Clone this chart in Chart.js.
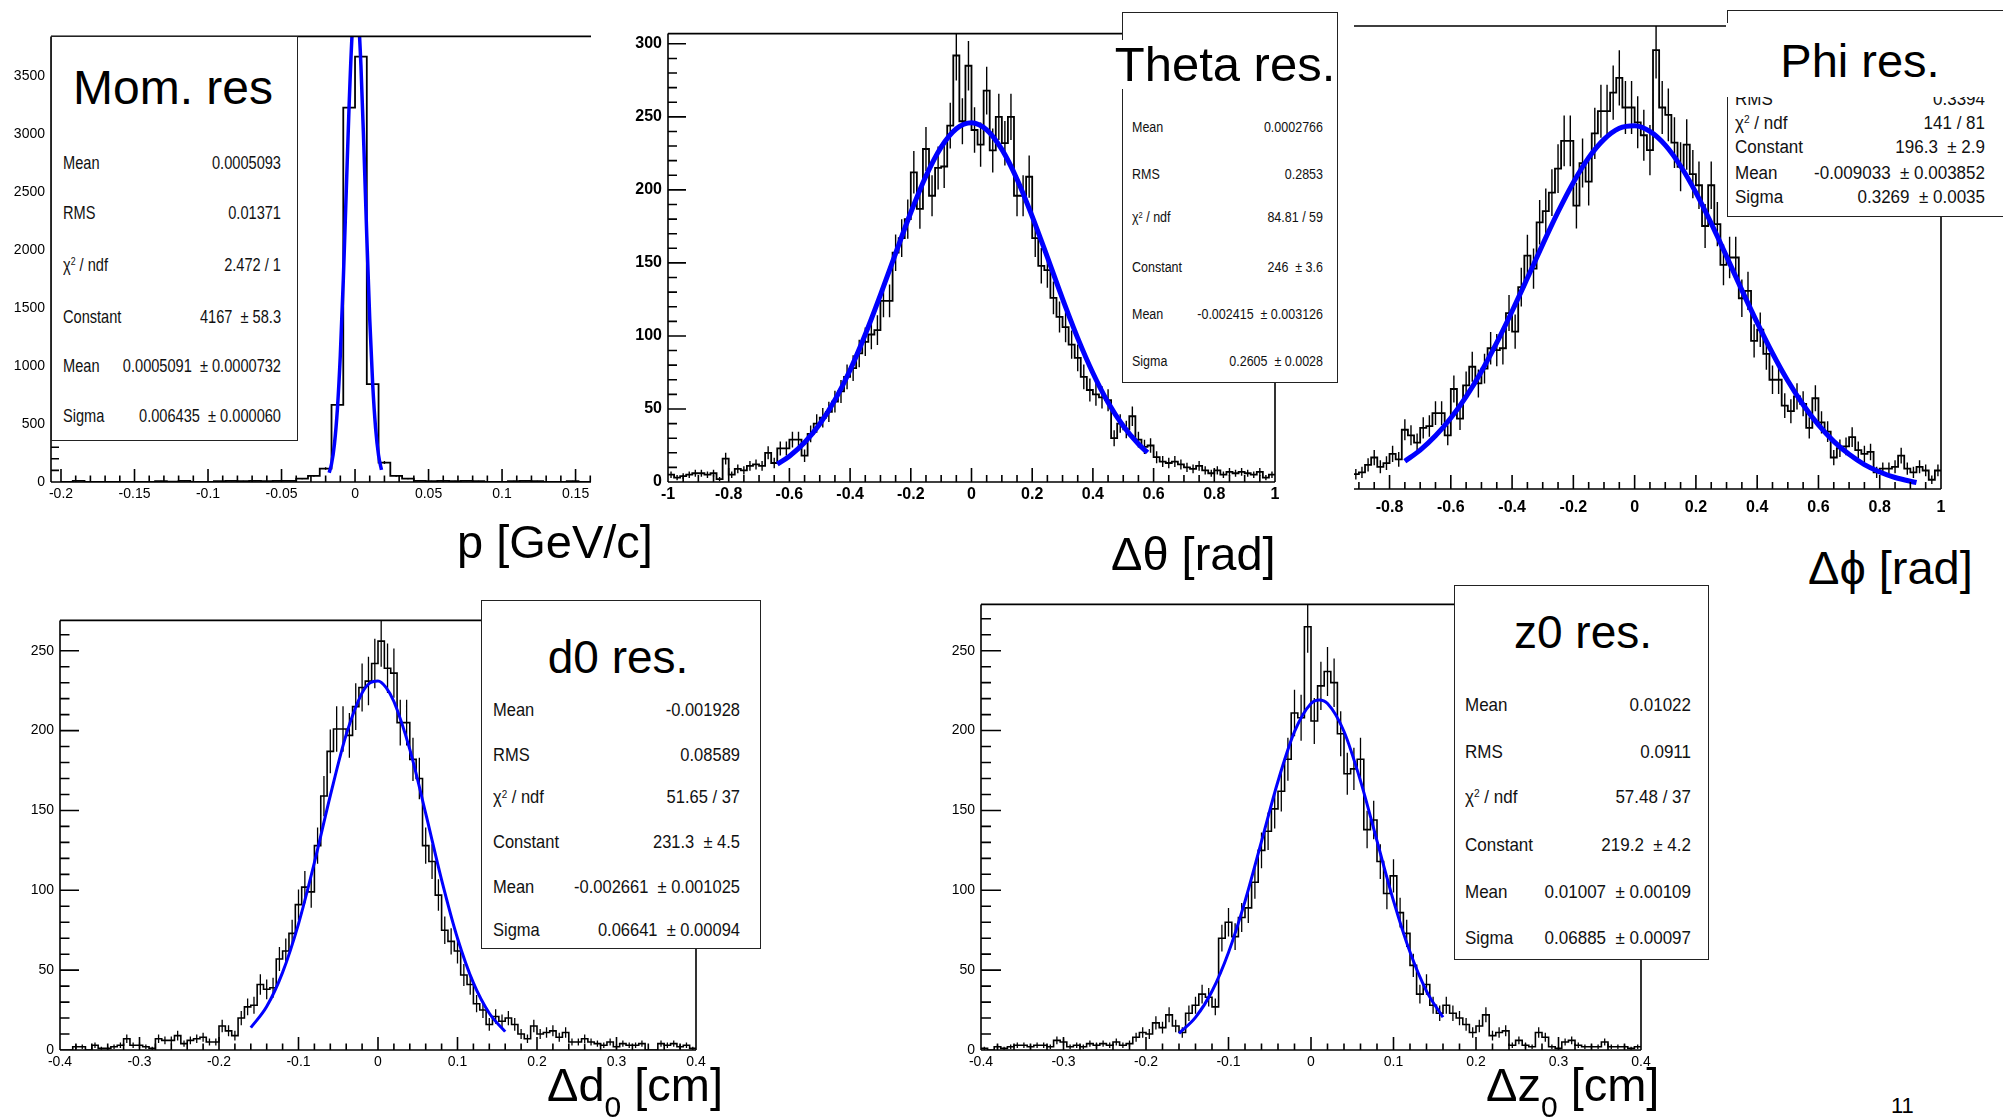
<!DOCTYPE html>
<html><head><meta charset="utf-8">
<script src="https://cdn.jsdelivr.net/npm/chart.js@4.4.1/dist/chart.umd.min.js"></script>
<style>
body{margin:0;background:#fff;width:2003px;height:1117px;position:relative;overflow:hidden;font-family:"Liberation Sans",Arial,Helvetica,sans-serif;}
canvas{position:absolute;}
.box{position:absolute;background:#fff;border:1.5px solid #222;box-sizing:border-box;z-index:5;}
.row{position:absolute;display:flex;justify-content:space-between;white-space:pre;line-height:1;color:#111;z-index:6;transform-origin:50% 50%;}
.row sup{font-size:60%;line-height:0;vertical-align:0.55em;}
.tbox{position:absolute;background:#fff;z-index:7;}
.ttl{position:absolute;white-space:nowrap;line-height:1;color:#000;z-index:8;transform:translateX(-50%);background:#fff;}
.axt{position:absolute;white-space:nowrap;font-size:47px;line-height:1;color:#000;z-index:9;}
</style></head><body>
<script>
// ---------------- DATA ----------------
const momBinLow = -0.2, momBinWidth = 0.008;
const momCounts = [0,9,0,0,0,0,0,0,8,3, 9,0,0,7,10,8,9,8,10,9, 29,52,116,665,3231,3670,844,168,52,29, 9,8,10,8,9,8,0,0,8,9, 8,0,0,8,0];
const momFitX = [-0.0176,-0.016,-0.014,-0.012,-0.010,-0.008,-0.006,-0.004,-0.002,0,0.002,0.004,0.006,0.008,0.010,0.012,0.014,0.016,0.018];
const momFitY = [80,155,328,629,1098,1738,2498,3259,3862,4154,4057,3597,2896,2117,1405,846,463,230,104];
const momXTicks = [-0.2,-0.15,-0.1,-0.05,0,0.05,0.1,0.15];
const momYTicks = [0,500,1000,1500,2000,2500,3000,3500];

const thetaBinLow = -1, thetaBinWidth = 0.02;
const thetaCounts = [5,3,4,5,6,6,5,6,2,16, 5,9,8,11,12,11,20,13,23,23, 29,29,18,33,40,44,48,55,62,72, 78,88,96,101,104,124,124,157,167,180, 212,187,228,196,215,216,244,292,247,285, 241,231,268,227,250,232,250,196,196,209, 167,148,145,126,113,106,94,85,72,63, 60,58,56,30,40,36,45,29,24,25, 17,14,13,14,12,10,9,11,8,6, 8,5,7,6,7,6,5,7,3,5];
const thetaFitX = [-0.64,-0.6,-0.55,-0.5,-0.45,-0.4,-0.35,-0.3,-0.25,-0.2,-0.15,-0.1,-0.05,0,0.05,0.1,0.15,0.2,0.25,0.3,0.35,0.4,0.45,0.5,0.55,0.58];
const thetaFitY = [12.3,17.7,27.0,39.7,56.2,76.7,101.0,128.1,156.6,184.5,209.5,229.3,241.9,246,241.1,227.7,207.3,181.9,153.9,125.4,98.5,74.6,54.4,38.3,26.0,20.2];
const thetaXTicks = [-1,-0.8,-0.6,-0.4,-0.2,0,0.2,0.4,0.6,0.8,1];
const thetaYTicks = [0,50,100,150,200,250,300];

const phiBinLow = -0.92, phiBinWidth = 0.02;
const phiCounts = [8,9,13,17,12,14,19,16,32,29, 25,33,34,41,41,29,54,38,56,66, 57,65,76,75,76,95,85,109,126,119, 144,150,160,173,188,188,153,176,166,192, 204,204,214,222,206,206,198,191,183,237, 206,202,187,174,186,170,164,142,164,143, 121,125,125,103,107,80,86,73,59,59, 45,42,50,46,33,49,36,31,17,22, 23,28,21,19,20,9,11,11,12,18, 11,9,12,10,5,10];
const phiFitX = [-0.75,-0.7,-0.65,-0.6,-0.55,-0.5,-0.45,-0.4,-0.35,-0.3,-0.25,-0.2,-0.15,-0.1,-0.05,0,0.05,0.1,0.15,0.2,0.25,0.3,0.35,0.4,0.45,0.5,0.55,0.6,0.65,0.7,0.75,0.8,0.85,0.92];
const phiFitY = [15.0,21.0,28.7,38.3,49.9,63.5,79.0,96.0,113.9,132.1,149.6,165.5,178.9,188.8,194.8,196.2,193.1,185.7,174.4,160.0,143.4,125.6,107.4,89.8,73.3,58.4,45.5,34.6,25.7,18.7,13.2,9.2,6.2,3.5];
const phiXTicks = [-0.8,-0.6,-0.4,-0.2,0,0.2,0.4,0.6,0.8,1];

const d0BinLow = -0.4, d0BinWidth = 0.008;
const d0Counts = [0,0,2,2,0,3,1,1,2,3, 7,3,3,2,1,7,6,6,9,4, 6,7,8,5,5, 15,12,9,20,27,28,41,38,39,57, 62,73,91,102,99,128,159,187,201,201, 197,215,227,231,242,256, 239,236,205,205,182,170,128,118,97,75, 68,62,47,41,29,25,16,21,18,20, 16,10,7,15,10,11,12,8,11,5, 5,7,5,4,3,5,2,4,3,3, 4,0,0,4,3,4,2,3,1];
const d0FitX = [-0.16,-0.14,-0.12,-0.1,-0.08,-0.06,-0.04,-0.02,-0.01,0,0.01,0.02,0.04,0.06,0.08,0.1,0.12,0.14,0.16];
const d0FitY = [14.0,27.2,48.6,79.0,117.4,159.3,197.5,223.6,229.9,231.1,227.1,218.2,188.2,148.2,106.6,70.0,42.0,23.0,11.5];
const d0XTicks = [-0.4,-0.3,-0.2,-0.1,0,0.1,0.2,0.3,0.4];
const d0YTicks = [0,50,100,150,200,250];

const z0BinLow = -0.4, z0BinWidth = 0.008;
const z0Counts = [1,0,2,1,2,3,3,2,3,3, 2,6,5,2,3,2,4,3,4,3, 5,3,4,8,11,10,17,14,22,15, 11,23,28,35,33,27,70,80,71,83, 89,105,125,137,151,162,182,211,208,265, 206,228,237,230,198,173,176,182,138,144, 118,98,109,86,73,53,35,41,28,23, 28,23,20,16,11,15,22,9,11,12, 3,6,3,2,11,8,2,1,5,6, 3,2,2,2,5,2,2,2,1,2];
const z0FitX = [-0.16,-0.14,-0.12,-0.1,-0.08,-0.06,-0.04,-0.02,0,0.01,0.02,0.04,0.06,0.08,0.1,0.12,0.14,0.16];
const z0FitY = [10.4,20.4,36.8,61.1,93.1,130.6,168.3,199.3,216.9,219.2,216.9,199.4,168.5,130.9,93.4,61.3,36.9,20.5];
const z0XTicks = [-0.4,-0.3,-0.2,-0.1,0,0.1,0.2,0.3,0.4];
const z0YTicks = [0,50,100,150,200,250];

const statMom = [['Mean','0.0005093'],['RMS','0.01371'],['χ<sup>2</sup> / ndf','2.472 / 1'],['Constant','4167  ± 58.3'],['Mean','0.0005091  ± 0.0000732'],['Sigma','0.006435  ± 0.000060']];
const statTheta = [['Mean','0.0002766'],['RMS','0.2853'],['χ<sup>2</sup> / ndf','84.81 / 59'],['Constant','246  ± 3.6'],['Mean','-0.002415  ± 0.003126'],['Sigma','0.2605  ± 0.0028']];
const statPhi = [['RMS','0.3394'],['χ<sup>2</sup> / ndf','141 / 81'],['Constant','196.3  ± 2.9'],['Mean','-0.009033  ± 0.003852'],['Sigma','0.3269  ± 0.0035']];
const statD0 = [['Mean','-0.001928'],['RMS','0.08589'],['χ<sup>2</sup> / ndf','51.65 / 37'],['Constant','231.3  ± 4.5'],['Mean','-0.002661  ± 0.001025'],['Sigma','0.06641  ± 0.00094']];
const statZ0 = [['Mean','0.01022'],['RMS','0.0911'],['χ<sup>2</sup> / ndf','57.48 / 37'],['Constant','219.2  ± 4.2'],['Mean','0.01007  ± 0.00109'],['Sigma','0.06885  ± 0.00097']];

// ---------------- HELPERS ----------------
Chart.defaults.font.family = '"Liberation Sans", Arial, Helvetica, sans-serif';
const fmt = v => String(Math.round(v*10000)/10000);
function histPoints(lo, w, counts){
  const p = counts.map((c,i)=>({x: lo + i*w, y: c}));
  p.push({x: lo + counts.length*w, y: counts[counts.length-1]});
  return p;
}
function errPoints(lo, w, counts){
  const p = [];
  counts.forEach((c,i)=>{ if(c>0){ const xc = lo+(i+0.5)*w, e = Math.sqrt(c);
    p.push({x:xc,y:c-e},{x:xc,y:c+e},{x:xc,y:null}); } });
  return p;
}
const zipPts = (xs, ys) => xs.map((x,i)=>({x, y: ys[i]}));

const rootAxes = {
  id:'rootAxes',
  afterDatasetsDraw(chart, args, o){
    const {ctx, chartArea:a, scales:{x, y}} = chart;
    ctx.save(); ctx.strokeStyle='#000'; ctx.lineWidth=o.lw; ctx.lineCap='butt';
    ctx.beginPath();
    ctx.moveTo(a.left, a.bottom); ctx.lineTo(a.right, a.bottom);
    if(o.left){ ctx.moveTo(a.left, a.top); ctx.lineTo(a.left, a.bottom); }
    if(o.top){ ctx.moveTo(a.left, a.top); ctx.lineTo(a.right, a.top); }
    if(o.right){ ctx.moveTo(a.right, a.top); ctx.lineTo(a.right, a.bottom); }
    const xm = o.xMajor/o.xDiv;
    for(let k=Math.ceil(x.min/xm-1e-6); k*xm<=x.max+1e-9; k++){
      const px = x.getPixelForValue(k*xm);
      const len = (((k%o.xDiv)+o.xDiv)%o.xDiv===0) ? o.xLen : o.xLen/2;
      ctx.moveTo(px, a.bottom); ctx.lineTo(px, a.bottom-len);
    }
    if(o.yTicks){
      const ym = o.yMajor/o.yDiv;
      for(let k=0; k*ym<=y.max+1e-9; k++){
        const py = y.getPixelForValue(k*ym);
        const len = (k%o.yDiv===0) ? o.yLen : o.yLen/2;
        ctx.moveTo(a.left, py); ctx.lineTo(a.left+len, py);
      }
    }
    ctx.stroke(); ctx.restore();
  }
};
Chart.register(rootAxes);

function panel(c){
  const [L,T,R,B] = c.frame; const pl=70, pt=14, pr=34, pb=46;
  const W=R-L+pl+pr, H=B-T+pt+pb;
  const cv=document.createElement('canvas');
  cv.width=W; cv.height=H; cv.style.left=(L-pl)+'px'; cv.style.top=(T-pt)+'px';
  cv.style.width=W+'px'; cv.style.height=H+'px';
  document.body.appendChild(cv);
  const tf = {size:c.tickFont, weight:c.bold?'bold':'normal'};
  new Chart(cv,{
    type:'line',
    data:{datasets:[
      {data:zipPts(c.fitX,c.fitY), borderColor:'#0000ff', borderWidth:c.fitW, cubicInterpolationMode:'monotone', pointRadius:0, order:0},
      {data:histPoints(c.lo,c.w,c.counts), borderColor:'#000', borderWidth:c.histW, stepped:true, pointRadius:0, order:1},
      {data:errPoints(c.lo,c.w,c.counts), borderColor:'#000', borderWidth:c.errW, spanGaps:false, pointRadius:0, order:2}
    ]},
    options:{
      responsive:false, animation:false, devicePixelRatio:1,
      layout:{padding:{left:0,top:pt,right:pr,bottom:0}},
      plugins:{legend:{display:false}, tooltip:{enabled:false},
        rootAxes:{lw:1.6, left:c.left!==false, top:true, right:c.right!==false,
          xMajor:c.xMajor, xDiv:c.xDiv, xLen:c.xLen, yTicks:c.yTicks!==null,
          yMajor:c.yMajor, yDiv:c.yDiv, yLen:c.yLen}},
      scales:{
        x:{type:'linear', min:c.xMin, max:c.xMax, grid:{display:false,drawTicks:false}, border:{display:false},
           ticks:{autoSkip:false, maxRotation:0, padding:c.xPad, color:'#000', font:tf, callback:v=>fmt(v)},
           afterBuildTicks:s=>{s.ticks=c.xTicks.map(v=>({value:v}));},
           afterFit:s=>{s.height=pb;}},
        y:{type:'linear', min:0, max:c.yMax, grid:{display:false,drawTicks:false}, border:{display:false},
           ticks:{display:c.yTicks!==null, autoSkip:false, padding:6, color:'#000', font:tf, callback:v=>fmt(v)},
           afterBuildTicks:s=>{s.ticks=(c.yTicks||[0]).map(v=>({value:v}));},
           afterFit:s=>{s.width=pl;}}
      }
    }
  });
}

panel({frame:[51,36,591,482], xMin:-0.2068, xMax:0.1605, yMax:3845, lo:momBinLow, w:momBinWidth, counts:momCounts,
  fitX:momFitX, fitY:momFitY, xTicks:momXTicks, yTicks:momYTicks, xMajor:0.05, xDiv:5, yMajor:500, yDiv:5,
  xLen:13, yLen:16, right:false, tickFont:14, bold:false, xPad:4, fitW:3.5, histW:1.8, errW:1.4});
panel({frame:[668,32,1275,482], xMin:-1, xMax:1, yMax:307, lo:thetaBinLow, w:thetaBinWidth, counts:thetaCounts,
  fitX:thetaFitX, fitY:thetaFitY, xTicks:thetaXTicks, yTicks:thetaYTicks, xMajor:0.2, xDiv:4, yMajor:50, yDiv:5,
  xLen:14, yLen:18, tickFont:16, bold:true, xPad:3, fitW:5, histW:1.8, errW:1.4});
panel({frame:[1354,26,1941,489], xMin:-0.916, xMax:1, yMax:250, lo:phiBinLow, w:phiBinWidth, counts:phiCounts,
  fitX:phiFitX, fitY:phiFitY, xTicks:phiXTicks, yTicks:null, xMajor:0.2, xDiv:4, yMajor:50, yDiv:5,
  xLen:14, yLen:18, left:false, tickFont:16, bold:true, xPad:9, fitW:5, histW:1.8, errW:1.4});
panel({frame:[60,620,696,1050], xMin:-0.4, xMax:0.4, yMax:269, lo:d0BinLow, w:d0BinWidth, counts:d0Counts,
  fitX:d0FitX, fitY:d0FitY, xTicks:d0XTicks, yTicks:d0YTicks, xMajor:0.1, xDiv:5, yMajor:50, yDiv:5,
  xLen:13, yLen:19, tickFont:14, bold:false, xPad:4, fitW:3, histW:1.6, errW:1.3});
panel({frame:[981,604,1641,1050], xMin:-0.4, xMax:0.4, yMax:279, lo:z0BinLow, w:z0BinWidth, counts:z0Counts,
  fitX:z0FitX, fitY:z0FitY, xTicks:z0XTicks, yTicks:z0YTicks, xMajor:0.1, xDiv:5, yMajor:50, yDiv:5,
  xLen:13, yLen:20, tickFont:14, bold:false, xPad:4, fitW:3, histW:1.6, errW:1.3});

// ---------------- STAT BOXES ----------------
function el(cls, css, html){ const d=document.createElement('div'); d.className=cls; Object.assign(d.style,css); if(html!==undefined) d.innerHTML=html; document.body.appendChild(d); return d; }
function statBox(s){
  const [l,t,r,b]=s.box;
  el('box',{left:l+'px',top:t+'px',width:(r-l)+'px',height:(b-t)+'px'});
  if(s.tbox){ const [a,bq,c,d]=s.tbox; el('tbox',{left:a+'px',top:bq+'px',width:(c-a)+'px',height:(d-bq)+'px'}); }
  el('ttl',{left:s.tx+'px',top:(s.ty-0.49*s.tfs)+'px',fontSize:s.tfs+'px'}, s.title);
  s.rows.forEach((rw,i)=>{
    el('row',{left:s.lx+'px',width:(s.rx-s.lx)+'px',top:(s.ry[i]-0.49*s.fs)+'px',fontSize:s.fs+'px',transform:'scaleY('+s.sy+')'},
      '<span>'+rw[0]+'</span><span>'+rw[1]+'</span>');
  });
}
statBox({box:[51,36,298,441], title:'Mom. res', tx:173, ty:88, tfs:48, rows:statMom, ry:[163,213,265,317,366,416], lx:63, rx:281, fs:14.6, sy:1.25});
statBox({box:[1122,12,1338,383], title:'Theta res.', tx:1225, ty:64, tfs:49, rows:statTheta, ry:[128,175,218,268,315,362], lx:1132, rx:1323, fs:12.5, sy:1.1});
statBox({box:[1727,10,2012,217], tbox:[1726,23,2003,97], title:'Phi res.', tx:1860, ty:60, tfs:47, rows:statPhi, ry:[99,123,147,173,197], lx:1735, rx:1985, fs:17, sy:1.05});
statBox({box:[481,600,761,949], title:'d0 res.', tx:618, ty:657, tfs:46, rows:statD0, ry:[710,755,797,842,887,930], lx:493, rx:740, fs:16.5, sy:1.08});
statBox({box:[1454,585,1709,960], title:'z0 res.', tx:1583, ty:632, tfs:46, rows:statZ0, ry:[705,752,797,845,892,938], lx:1465, rx:1691, fs:17, sy:1.08});

// ---------------- AXIS TITLES ----------------
el('axt',{left:'457px',top:'518px'},'p [GeV/c]');
el('axt',{left:'1111px',top:'530px'},'Δθ [rad]');
el('axt',{left:'1808px',top:'544px'},'Δϕ [rad]');
el('axt',{left:'547px',top:'1061px'},'Δd<span style="font-size:30px;position:relative;top:16px">0</span> [cm]');
el('axt',{left:'1486px',top:'1061px'},'Δz<span style="font-size:30px;position:relative;top:16px">0</span> [cm]');
el('axt',{left:'1891px',top:'1095px',fontSize:'22px'},'11');
</script>
</body></html>
